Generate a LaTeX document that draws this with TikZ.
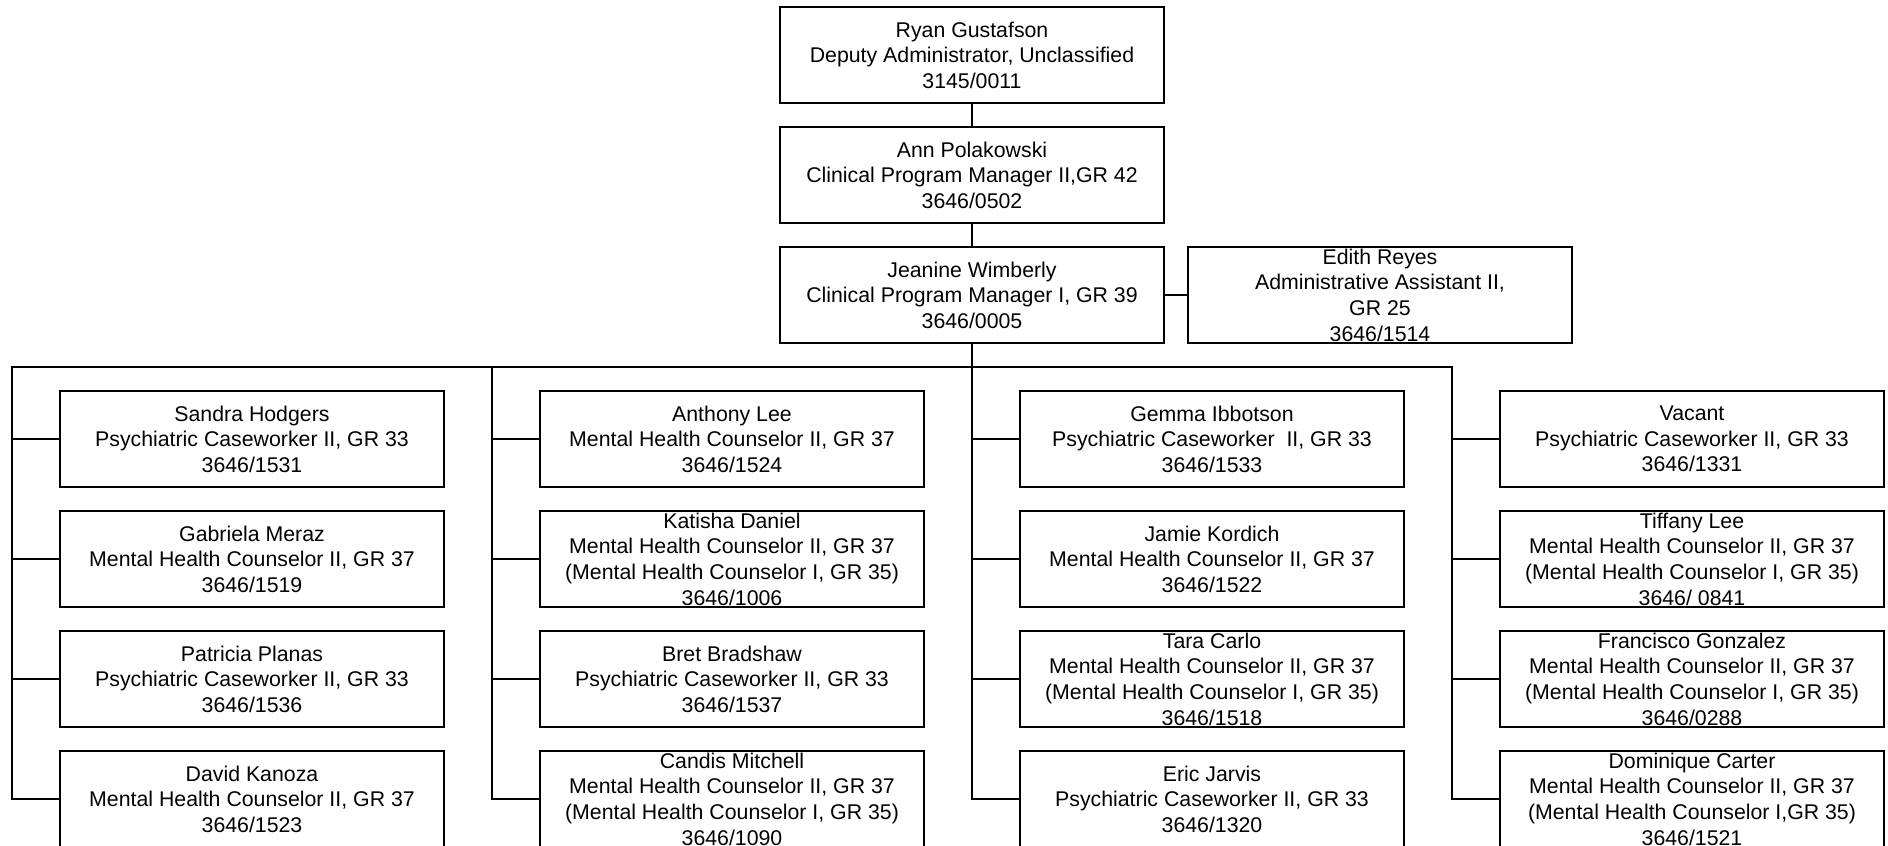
\documentclass[tikz,border=0pt]{standalone}
\usepackage{fontspec}
\setmainfont{Liberation Sans}
\begin{document}
\begin{tikzpicture}[x=1pt,y=-1pt,
    post/.style={draw,line width=2pt,minimum width=384pt,minimum height=96pt,inner sep=0pt},
    who/.style={align=center,inner sep=0pt,font=\fontsize{21.3}{25.6}\selectfont},
    wire/.style={line width=2pt,line cap=rect}]
    \useasboundingbox (0,0) rectangle (1888,846);
    % management
    \node[post] (ryan) at (972,55) {};
    \node[who] (ryan-t) at (ryan) {Ryan Gustafson\\Deputy Administrator, Unclassified\\3145/0011};
    \node[post] (ann) at (972,175) {};
    \node[who] (ann-t) at (ann) {Ann Polakowski\\Clinical Program Manager II,GR 42\\3646/0502};
    \node[post] (jeanine) at (972,295) {};
    \node[who] (jeanine-t) at (jeanine) {Jeanine Wimberly\\Clinical Program Manager I, GR 39\\3646/0005};
    \node[post] (edith) at (1380,295) {};
    \node[who] (edith-t) at (edith) {Edith Reyes\\Administrative Assistant II,\\GR 25\\3646/1514};
    % first column
    \node[post] (sandra) at (252,439) {};
    \node[who] (sandra-t) at (sandra) {Sandra Hodgers\\Psychiatric Caseworker II, GR 33\\3646/1531};
    \node[post] (gabriela) at (252,559) {};
    \node[who] (gabriela-t) at (gabriela) {Gabriela Meraz\\Mental Health Counselor II, GR 37\\3646/1519};
    \node[post] (patricia) at (252,679) {};
    \node[who] (patricia-t) at (patricia) {Patricia Planas\\Psychiatric Caseworker II, GR 33\\3646/1536};
    \node[post] (david) at (252,799) {};
    \node[who] (david-t) at (david) {David Kanoza\\Mental Health Counselor II, GR 37\\3646/1523};
    % second column
    \node[post] (anthony) at (732,439) {};
    \node[who] (anthony-t) at (anthony) {Anthony Lee\\Mental Health Counselor II, GR 37\\3646/1524};
    \node[post] (katisha) at (732,559) {};
    \node[who] (katisha-t) at (katisha) {Katisha Daniel\\Mental Health Counselor II, GR 37\\(Mental Health Counselor I, GR 35)\\3646/1006};
    \node[post] (bret) at (732,679) {};
    \node[who] (bret-t) at (bret) {Bret Bradshaw\\Psychiatric Caseworker II, GR 33\\3646/1537};
    \node[post] (candis) at (732,799) {};
    \node[who] (candis-t) at (candis) {Candis Mitchell\\Mental Health Counselor II, GR 37\\(Mental Health Counselor I, GR 35)\\3646/1090};
    % third column
    \node[post] (gemma) at (1212,439) {};
    \node[who] (gemma-t) at (gemma) {Gemma Ibbotson\\Psychiatric Caseworker\ \ II, GR 33\\3646/1533};
    \node[post] (jamie) at (1212,559) {};
    \node[who] (jamie-t) at (jamie) {Jamie Kordich\\Mental Health Counselor II, GR 37\\3646/1522};
    \node[post] (tara) at (1212,679) {};
    \node[who] (tara-t) at (tara) {Tara Carlo\\Mental Health Counselor II, GR 37\\(Mental Health Counselor I, GR 35)\\3646/1518};
    \node[post] (eric) at (1212,799) {};
    \node[who] (eric-t) at (eric) {Eric Jarvis\\Psychiatric Caseworker II, GR 33\\3646/1320};
    % fourth column
    \node[post] (vacant) at (1692,439) {};
    \node[who] (vacant-t) at (vacant) {Vacant\\Psychiatric Caseworker II, GR 33\\3646/1331};
    \node[post] (tiffany) at (1692,559) {};
    \node[who] (tiffany-t) at (tiffany) {Tiffany Lee\\Mental Health Counselor II, GR 37\\(Mental Health Counselor I, GR 35)\\3646/ 0841};
    \node[post] (francisco) at (1692,679) {};
    \node[who] (francisco-t) at (francisco) {Francisco Gonzalez\\Mental Health Counselor II, GR 37\\(Mental Health Counselor I, GR 35)\\3646/0288};
    \node[post] (dominique) at (1692,799) {};
    \node[who] (dominique-t) at (dominique) {Dominique Carter\\Mental Health Counselor II, GR 37\\(Mental Health Counselor I,GR 35)\\3646/1521};
    % lines
    \coordinate (bus1) at (12,367);
    \coordinate (bus2) at (492,367);
    \coordinate (bus3) at (972,367);
    \coordinate (bus4) at (1452,367);
    \draw[wire] (ryan) -- (ann);
    \draw[wire] (ann) -- (jeanine);
    \draw[wire] (jeanine) -- (edith);
    \draw[wire] (jeanine.south) -- (bus3);
    \draw[wire] (bus1) -- (bus4);
    \draw[wire] (bus1) -- (bus1 |- david.west);
    \draw[wire] (bus2) -- (bus2 |- candis.west);
    \draw[wire] (bus3) -- (bus3 |- eric.west);
    \draw[wire] (bus4) -- (bus4 |- dominique.west);
    \foreach \n in {sandra,gabriela,patricia,david} \draw[wire] (bus1 |- \n.west) -- (\n.west);
    \foreach \n in {anthony,katisha,bret,candis} \draw[wire] (bus2 |- \n.west) -- (\n.west);
    \foreach \n in {gemma,jamie,tara,eric} \draw[wire] (bus3 |- \n.west) -- (\n.west);
    \foreach \n in {vacant,tiffany,francisco,dominique} \draw[wire] (bus4 |- \n.west) -- (\n.west);
\end{tikzpicture}
\end{document}
